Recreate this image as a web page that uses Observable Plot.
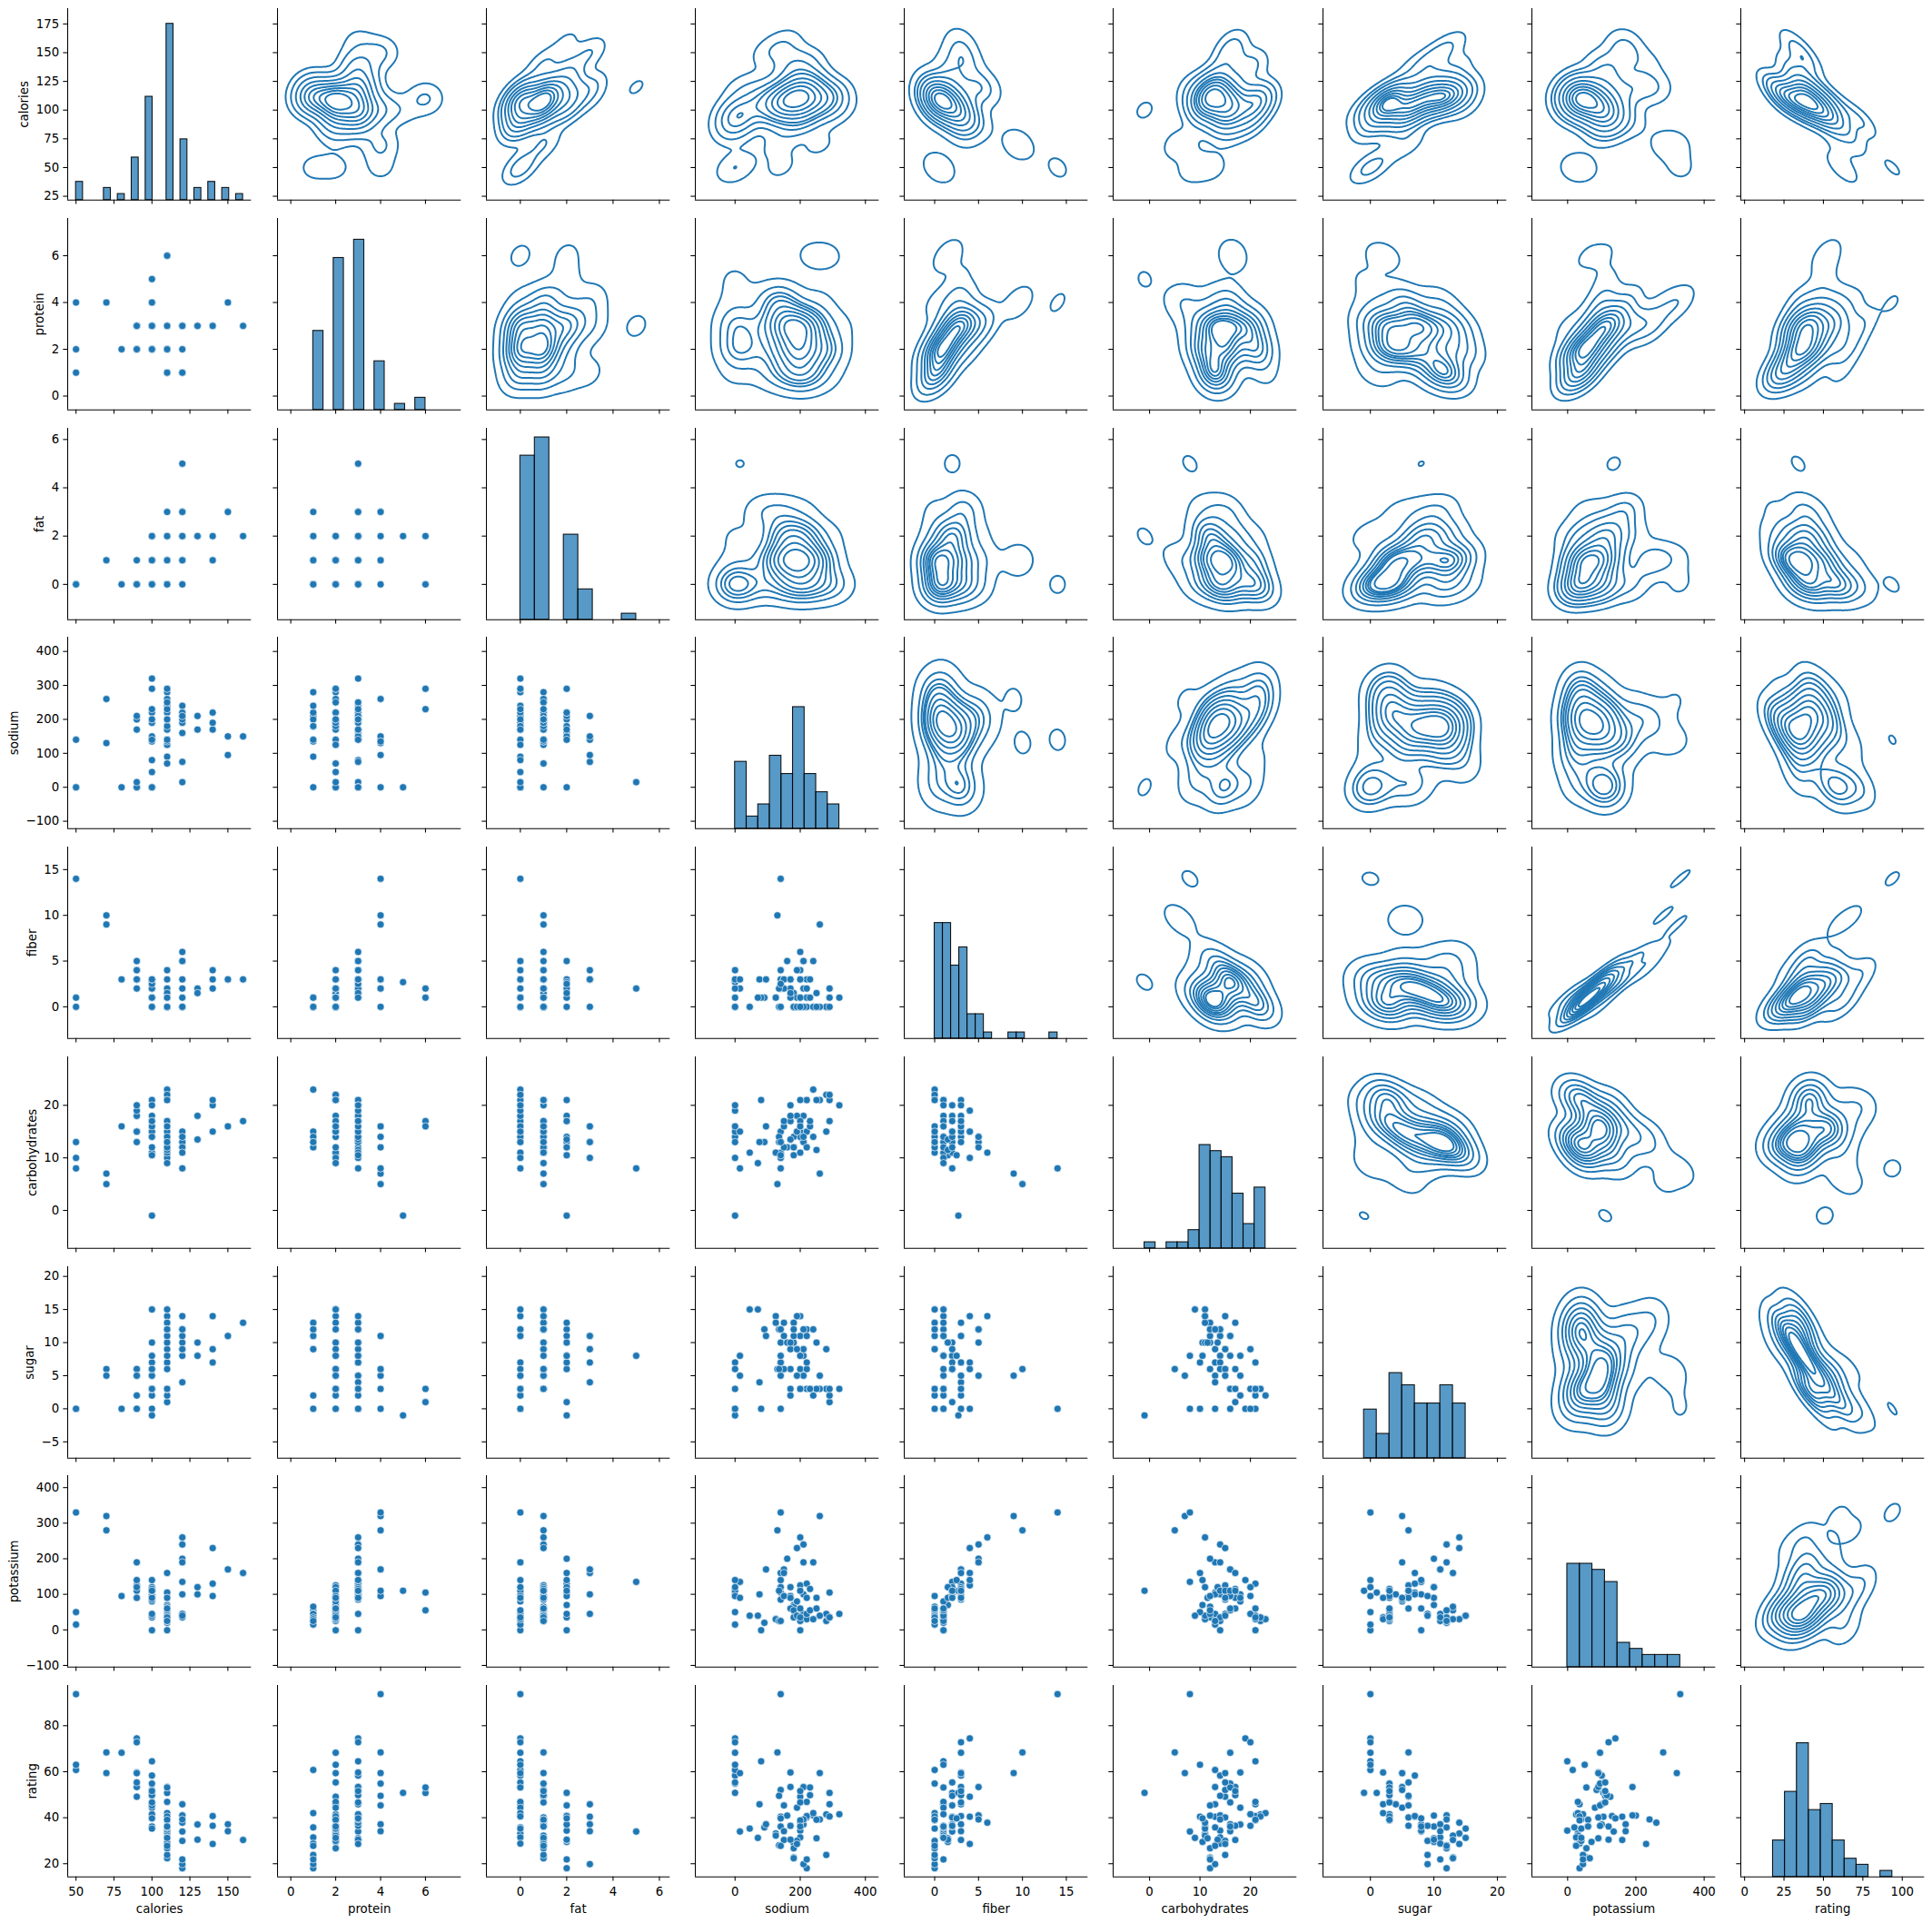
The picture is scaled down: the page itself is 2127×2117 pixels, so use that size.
<!DOCTYPE html>
<html><head><meta charset="utf-8">
<script src="https://cdn.jsdelivr.net/npm/d3@7"></script>
<script src="https://cdn.jsdelivr.net/npm/@observablehq/plot@0.6"></script>
<style>
html,body{margin:0;padding:0;background:#fff;}
#chart{position:relative;width:2127px;height:2117px;overflow:hidden;background:#fff;}
#chart .cell{position:absolute;}
#chart svg{overflow:visible !important;background:transparent !important;font-family:"DejaVu Sans" !important;display:block;}
</style></head><body><div id="chart"></div>
<script>
const variables = ["calories","protein","fat","sodium","fiber","carbohydrates","sugar","potassium","rating"];
const calories = [70,120,70,50,110,110,110,130,90,90,120,110,120,110,110,110,100,110,110,110,100,110,100,100,110,110,100,120,120,110,100,110,100,110,120,120,110,110,110,140,110,100,110,100,150,150,160,100,120,140,90,130,120,100,50,50,100,100,120,100,90,110,110,80,90,90,110,110,90,110,140,100,110,110,100,100,110];
const protein = [4,3,4,4,2,2,2,3,2,3,1,6,1,3,1,2,2,1,1,3,3,2,2,2,2,1,3,3,3,1,2,1,3,3,3,1,3,1,2,3,2,4,2,4,4,4,3,2,2,3,3,3,3,3,1,2,4,5,3,3,2,1,2,2,3,3,2,6,2,2,3,3,2,1,3,3,2];
const fat = [1,5,1,0,2,2,0,2,1,0,2,2,3,2,1,0,0,0,1,3,0,0,1,0,1,0,0,2,0,1,0,1,1,0,3,2,1,0,1,1,1,2,1,1,3,3,2,1,1,2,0,2,1,0,0,0,1,2,1,2,0,0,0,0,0,0,1,0,0,1,1,1,1,1,1,1,1];
const sodium = [130,15,260,140,200,180,125,210,200,210,220,290,210,140,180,280,290,90,180,140,80,220,140,190,125,200,0,160,240,135,45,280,140,170,75,220,250,180,170,170,260,150,180,0,95,150,150,220,190,220,170,170,200,320,0,0,135,0,210,140,0,240,290,0,0,0,70,230,15,200,190,200,250,140,230,200,200];
const fiber = [10,2,9,14,1,1.5,1,2,4,5,0,2,0,2,0,0,1,1,0,4,1,1,2,1,1,1,3,5,5,0,0,0,3,3,3,1,1.5,0,1,2,0,2,0,0,3,3,3,2,0,3,3,1.5,6,1,0,1,2,2.7,5,2.5,2,0,0,3,4,3,1,1,3,0,4,3,0,0,3,3,1];
const carbohydrates = [5,8,7,8,14,10.5,11,18,15,13,12,17,13,13,12,22,21,13,12,10,21,21,11,18,11,14,14,12,14,13,11,15,15,17,13,12,11.5,14,17,20,21,12,12,16,16,16,17,15,15,21,18,13.5,11,20,13,10,14,-1,14,10.5,15,23,22,16,19,20,9,16,15,21,15,16,21,13,17,17,16];
const sugar = [6,8,5,0,8,10,14,8,6,5,12,1,9,7,13,3,2,12,13,7,0,3,10,5,13,11,7,10,12,12,15,9,5,3,4,11,10,11,6,9,3,6,12,3,11,11,13,6,9,7,2,10,14,3,0,0,6,-1,12,8,6,2,3,0,0,0,15,3,5,3,14,3,3,12,3,3,8];
const potassium = [280,135,320,330,-1,70,30,100,125,190,35,105,45,105,55,25,35,20,65,160,-1,30,120,80,30,25,100,200,190,25,40,45,85,90,100,45,90,35,60,95,40,95,55,95,170,170,160,90,40,130,90,120,260,45,15,50,110,110,240,140,110,30,35,95,140,120,40,55,90,35,230,110,60,25,115,110,60];
const rating = [68.402973,33.983679,59.425505,93.704912,34.384843,29.509541,33.174094,37.038562,49.120253,53.313813,18.042851,50.764999,19.823573,40.400208,22.736446,41.445019,45.863324,35.782791,22.396513,40.448772,64.533816,46.895644,36.176196,44.330856,32.207582,31.435973,58.345141,40.917047,41.015492,28.025765,35.252444,23.804043,52.076897,53.371007,45.811716,21.871292,31.072217,28.742414,36.523683,36.471512,39.241114,45.328074,26.734515,54.850917,37.136863,34.139765,30.313351,40.105965,29.924285,40.692320,59.642837,30.450843,37.840594,41.503540,60.756112,63.005645,49.511874,50.828392,39.259197,39.703400,55.333142,41.998933,40.560159,68.235885,74.472949,72.801787,31.230054,53.131324,59.363993,38.839746,28.592785,46.658844,39.106174,27.753301,49.787445,51.592193,36.187559];

const xTicks = [[50,75,100,125,150],[0,2,4,6],[0,2,4,6],[0,200,400],[0,5,10,15],[0,10,20],[0,10,20],[0,200,400],[0,25,50,75,100]];
const yTicks = [[25,50,75,100,125,150,175],[0,2,4,6],[0,2,4,6],[-100,0,100,200,300,400],[0,5,10,15],[0,10,20],[-5,0,5,10,15,20],[-100,0,100,200,300,400],[20,40,60,80]];

const columns = [calories, protein, fat, sodium, fiber, carbohydrates, sugar, potassium, rating];
const N = variables.length, n = calories.length;
const rows = d3.range(n).map(r => Object.fromEntries(variables.map((v, k) => [v, columns[k][r]])));

// styling / layout
const C0 = "#1f77b4";
const FONT = 13.33;
const LEFT = 74.3, COLSTEP = 230.2, CW = 202.3;
const TOP = 9.3, ROWSTEP = 230.7, CH = 210.8;
const TICK = 4.67, PAD = 4.67, LINE = 1.07;

// statistics (seaborn: scott factor, cut = 3, 5% margins where no KDE)
const factor = Math.pow(n, -1 / 6);
function sd(a) { const m = d3.mean(a); return Math.sqrt(d3.sum(a, v => (v - m) ** 2) / (a.length - 1)); }
const stats = columns.map(a => {
  const mn = d3.min(a), mx = d3.max(a), bw = factor * sd(a);
  return {kde: [mn - 3 * bw, mx + 3 * bw], pad: [mn - 0.05 * (mx - mn), mx + 0.05 * (mx - mn)]};
});
const xDomain = stats.map((s, k) => k === 0 ? s.pad : s.kde);
const yDomain = stats.map((s, k) => k === N - 1 ? s.pad : s.kde);

// numpy "auto" histogram bins
function quant(s, q) { const p = q * (s.length - 1), lo = Math.floor(p), hi = Math.ceil(p); return s[lo] + (s[hi] - s[lo]) * (p - lo); }
function autoHist(a) {
  const s = Float64Array.from(a).sort();
  const first = s[0], last = s[s.length - 1], range = last - first;
  const sturges = range / (Math.log2(a.length) + 1);
  const fd = 2 * (quant(s, 0.75) - quant(s, 0.25)) * Math.pow(a.length, -1 / 3);
  const width = fd > 0 ? Math.min(fd, sturges) : sturges;
  const nb = Math.ceil(range / width);
  const counts = new Array(nb).fill(0);
  for (const v of a) { let b = Math.floor((v - first) / range * nb); if (b >= nb) b = nb - 1; counts[b]++; }
  return d3.range(nb).map(k => ({x1: first + range * k / nb, x2: first + range * (k + 1) / nb, count: counts[k]}));
}
const hists = columns.map(autoHist);
const maxCount = d3.max(hists, h => d3.max(h, b => b.count));

// gaussian KDE (full covariance), seaborn iso-proportion levels
const G = 200;
function kde(xs, ys) {
  const mx = d3.mean(xs), my = d3.mean(ys);
  let sxx = 0, syy = 0, sxy = 0;
  for (let k = 0; k < n; k++) { const dx = xs[k] - mx, dy = ys[k] - my; sxx += dx * dx; syy += dy * dy; sxy += dx * dy; }
  const f2 = factor * factor;
  const cxx = sxx / (n - 1) * f2, cyy = syy / (n - 1) * f2, cxy = sxy / (n - 1) * f2;
  const det = cxx * cyy - cxy * cxy;
  const A = cyy / det, B = -cxy / det, Cc = cxx / det;
  const bx = Math.sqrt(cxx), by = Math.sqrt(cyy);
  const x0 = d3.min(xs) - 3 * bx, x1 = d3.max(xs) + 3 * bx;
  const y0 = d3.min(ys) - 3 * by, y1 = d3.max(ys) + 3 * by;
  const gx = new Float64Array(G), gy = new Float64Array(G);
  for (let k = 0; k < G; k++) { gx[k] = x0 + (x1 - x0) * k / (G - 1); gy[k] = y0 + (y1 - y0) * k / (G - 1); }
  const values = new Float64Array(G * G);
  for (let j = 0; j < G; j++) {
    for (let i = 0; i < G; i++) {
      let s = 0;
      for (let k = 0; k < n; k++) {
        const dx = gx[i] - xs[k], dy = gy[j] - ys[k];
        const q = A * dx * dx + 2 * B * dx * dy + Cc * dy * dy;
        if (q < 70) s += Math.exp(-0.5 * q);
      }
      values[i + j * G] = s;
    }
  }
  const sorted = Float64Array.from(values).sort().reverse();
  const total = sorted.reduce((a, b) => a + b, 0);
  const cum = new Float64Array(sorted.length);
  let acc = 0;
  for (let k = 0; k < sorted.length; k++) { acc += sorted[k]; cum[k] = acc / total; }
  const qs = d3.range(10).map(k => 0.05 + 0.95 * k / 9);
  const levels = qs.map(q => {
    const t = 1 - q;
    let lo = 0, hi = cum.length;
    while (lo < hi) { const mid = (lo + hi) >> 1; if (cum[mid] < t) lo = mid + 1; else hi = mid; }
    return sorted[Math.min(lo, sorted.length - 1)];
  }).slice(0, -1).sort((a, b) => a - b);
  const hx = (x1 - x0) / (G - 1) / 2, hy = (y1 - y0) / (G - 1) / 2;
  return {values, x1: x0 - hx, x2: x1 + hx, y1: y0 - hy, y2: y1 + hy, levels};
}

const fmt = d => d < 0 ? "\u2212" + Math.abs(d) : String(d);
const ctx = document.createElement("canvas").getContext("2d");
ctx.font = `${FONT}px "DejaVu Sans"`;

const chart = document.getElementById("chart");
function place(svg, i, j) {
  const div = document.createElement("div");
  div.className = "cell";
  div.style.left = (LEFT + COLSTEP * j) + "px";
  div.style.top = (TOP + ROWSTEP * i) + "px";
  div.style.width = CW + "px";
  div.style.height = CH + "px";
  div.appendChild(svg);
  chart.appendChild(div);
}
const baseStyle = {overflow: "visible", background: "transparent", fontFamily: "DejaVu Sans"};

function axesMarks(i, j) {
  const marks = [
    Plot.axisX({anchor: "bottom", ticks: xTicks[j], tickSize: TICK, tickPadding: 6.5, tickFormat: i === N - 1 ? fmt : () => "", fontSize: FONT, strokeWidth: LINE, stroke: "black", fill: "black", label: null}),
    Plot.axisY({anchor: "left", ticks: yTicks[i], tickSize: TICK, tickPadding: PAD, tickFormat: j === 0 ? fmt : () => "", fontSize: FONT, strokeWidth: LINE, stroke: "black", fill: "black", label: null}),
    Plot.ruleX([xDomain[j][0]], {stroke: "black", strokeWidth: LINE}),
    Plot.ruleY([yDomain[i][0]], {stroke: "black", strokeWidth: LINE})
  ];
  if (j === 0) {
    const w = d3.max(yTicks[i], t => ctx.measureText(fmt(t)).width);
    const base = -(TICK + PAD) - w - 5.33 - 0.236 * FONT;
    marks.push(Plot.text([variables[i]], {text: d => d, frameAnchor: "left", rotate: -90, textAnchor: "middle", lineAnchor: "bottom", dx: base, fontSize: FONT, fill: "black"}));
  }
  if (i === N - 1) {
    marks.push(Plot.text([variables[j]], {text: d => d, frameAnchor: "bottom", textAnchor: "middle", lineAnchor: "bottom", dy: 39.5, fontSize: FONT, fill: "black"}));
  }
  return marks;
}

for (let i = 0; i < N; i++) {
  for (let j = 0; j < N; j++) {
    if (i === j) {
      const bars = Plot.plot({
        width: CW, height: CH, margin: 0, style: baseStyle,
        x: {domain: xDomain[j], axis: null},
        y: {domain: [0, 1.05 * maxCount], axis: null},
        marks: [Plot.rect(hists[j].filter(b => b.count > 0), {x1: "x1", x2: "x2", y1: 0, y2: "count", inset: 0, fill: C0, fillOpacity: 0.75, stroke: "black", strokeOpacity: 0.9, strokeWidth: 1.1})]
      });
      place(bars, i, j);
      const axes = Plot.plot({
        width: CW, height: CH, margin: 0, style: baseStyle,
        x: {domain: xDomain[j]}, y: {domain: yDomain[i]},
        marks: axesMarks(i, j)
      });
      place(axes, i, j);
    } else if (i > j) {
      const p = Plot.plot({
        width: CW, height: CH, margin: 0, style: baseStyle,
        x: {domain: xDomain[j]}, y: {domain: yDomain[i]},
        marks: [
          Plot.dot(rows, {x: variables[j], y: variables[i], r: 4, fill: C0, stroke: "white", strokeWidth: 0.64}),
          ...axesMarks(i, j)
        ]
      });
      place(p, i, j);
    } else {
      const k = kde(columns[j], columns[i]);
      const p = Plot.plot({
        width: CW, height: CH, margin: 0, style: baseStyle,
        x: {domain: xDomain[j]}, y: {domain: yDomain[i]},
        marks: [
          Plot.contour(k.values, {width: G, height: G, x1: k.x1, x2: k.x2, y1: k.y1, y2: k.y2, value: Plot.identity, thresholds: k.levels, fill: "none", stroke: C0, strokeWidth: 2, clip: true}),
          ...axesMarks(i, j)
        ]
      });
      place(p, i, j);
    }
  }
}
</script></body></html>
